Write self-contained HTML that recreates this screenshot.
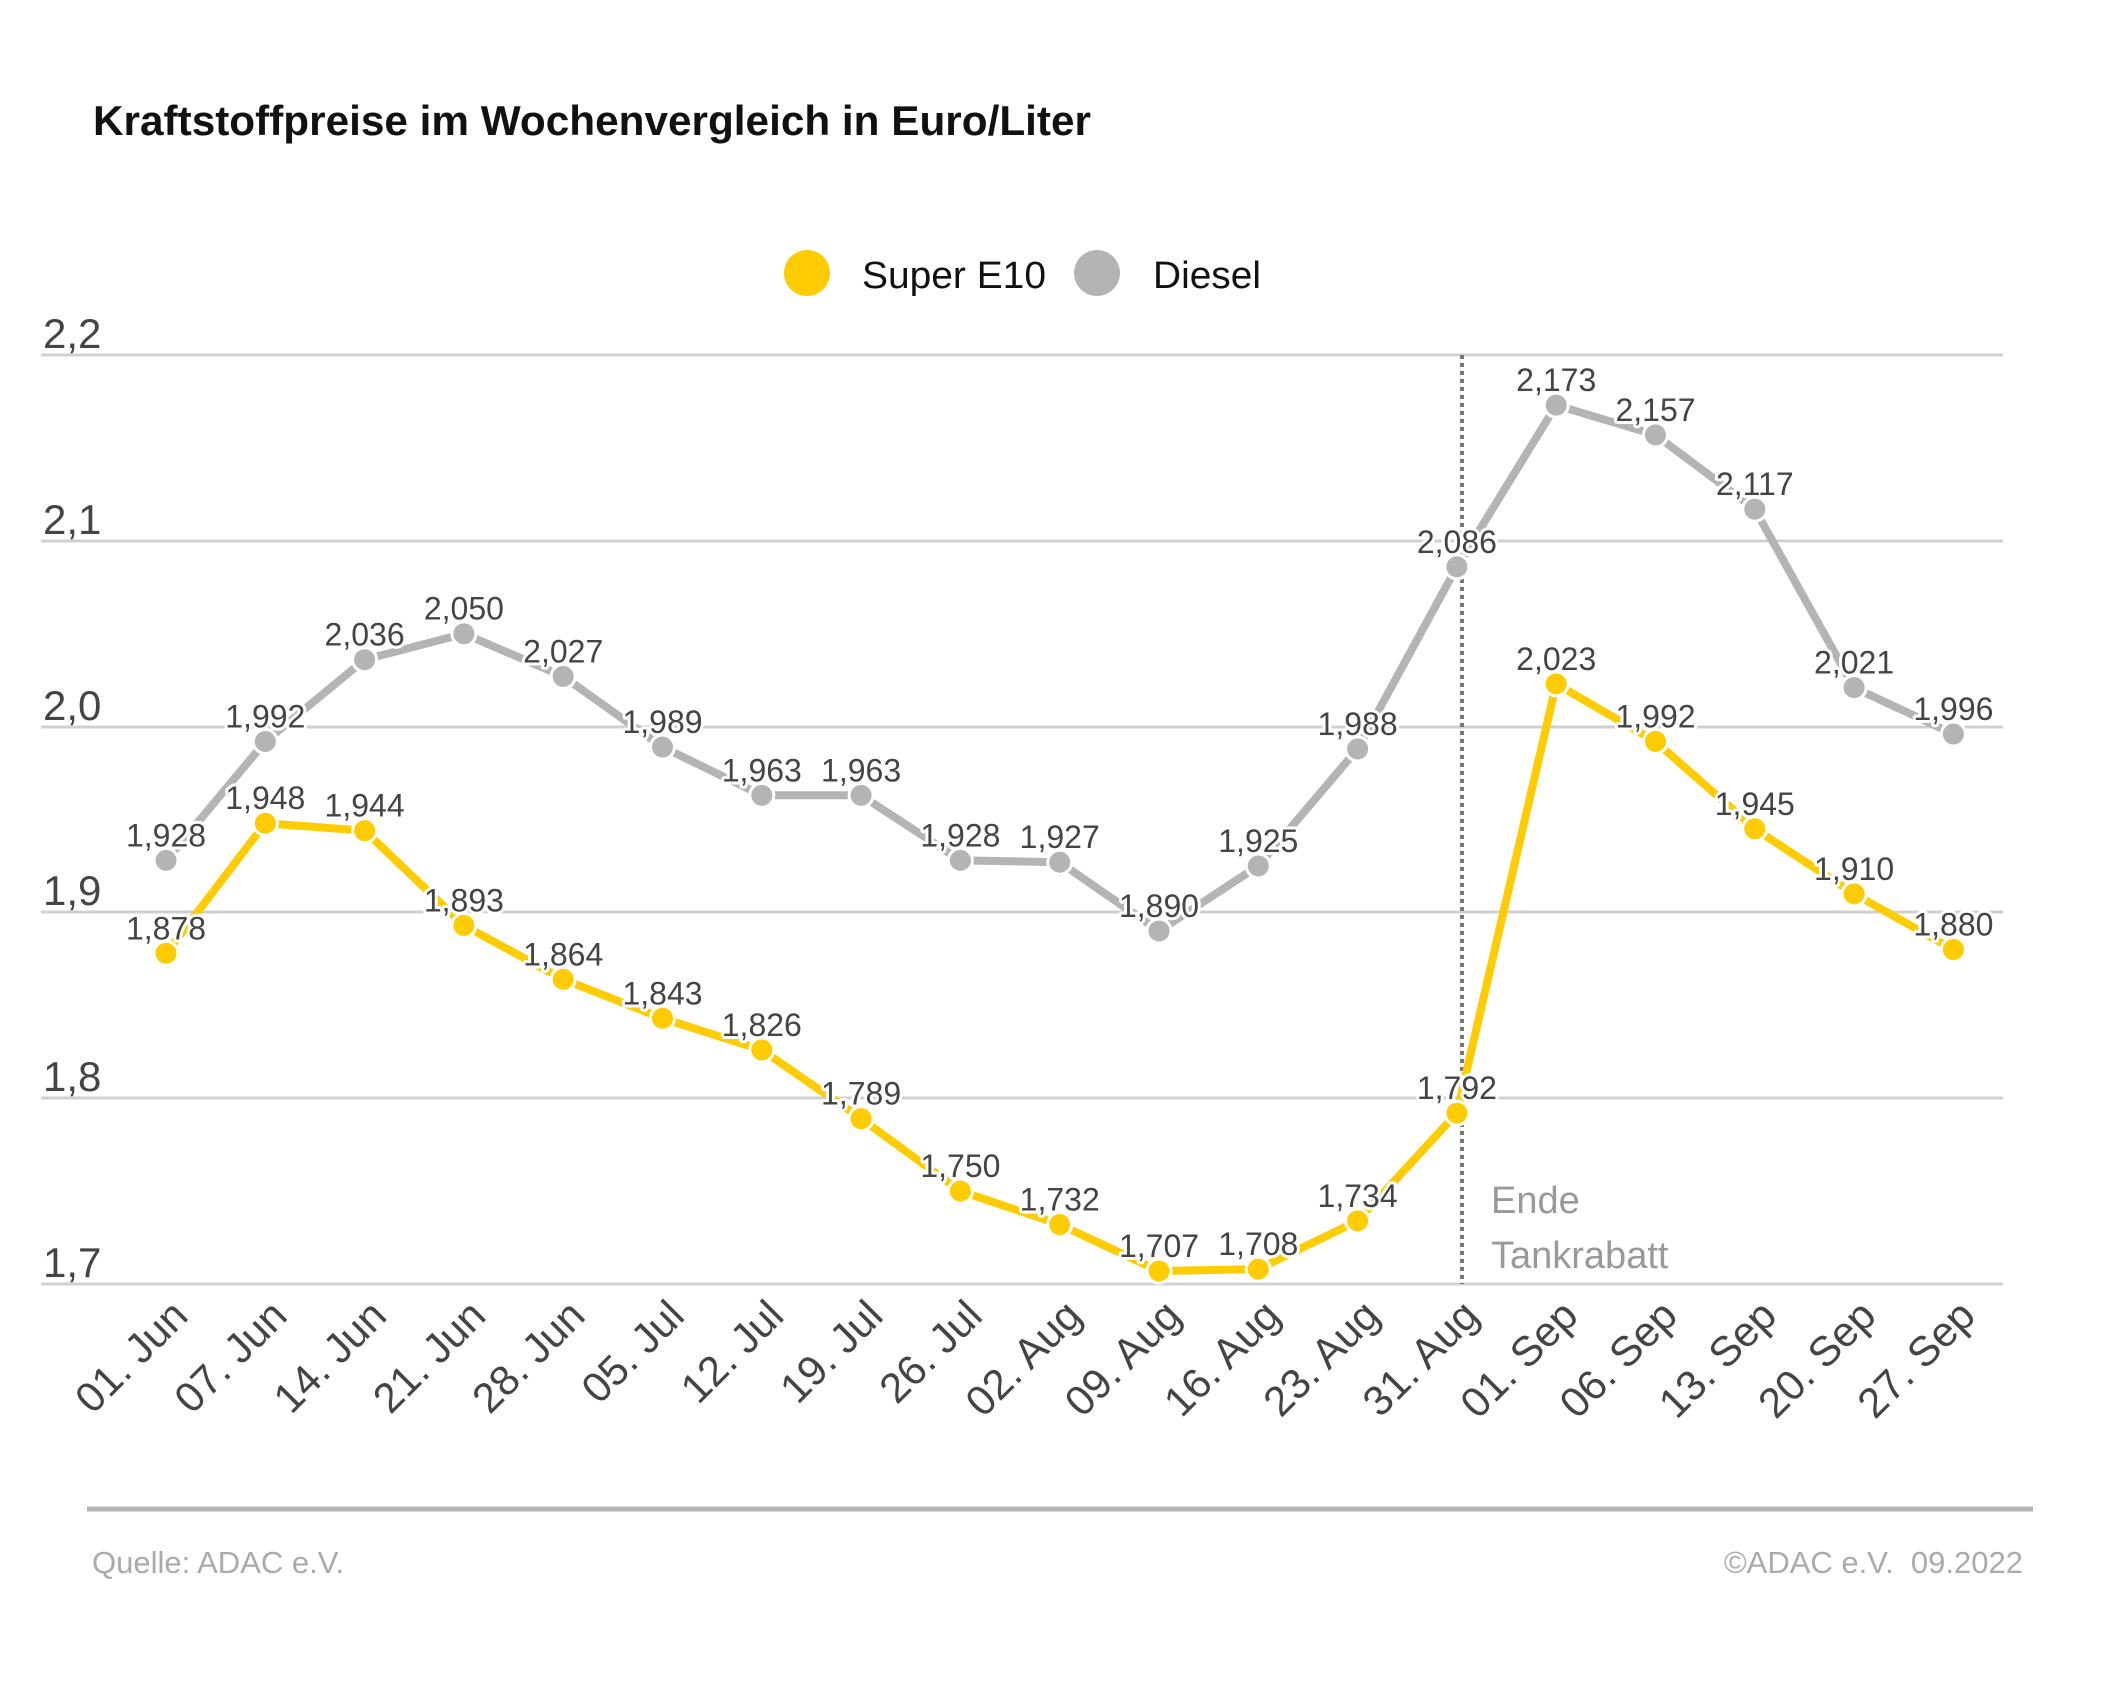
<!DOCTYPE html>
<html><head><meta charset="utf-8"><style>
html,body{margin:0;padding:0;background:#fff;}
svg{display:block;}
text{font-family:"Liberation Sans",sans-serif;}
.lbl{font-size:32px;fill:#444;text-anchor:middle;stroke:#fff;stroke-width:6px;paint-order:stroke;stroke-linejoin:round;}
.yt{font-size:42px;fill:#444;}
.xt{font-size:42px;fill:#444;text-anchor:end;}
</style></head><body>
<svg width="2126" height="1683" viewBox="0 0 2126 1683" xmlns="http://www.w3.org/2000/svg">
<text x="93" y="135" font-size="42" font-weight="bold" fill="#111" textLength="998" lengthAdjust="spacingAndGlyphs">Kraftstoffpreise im Wochenvergleich in Euro/Liter</text>
<circle cx="807" cy="273" r="23" fill="#fecc00"/>
<text x="862" y="288" font-size="38" fill="#111" textLength="184" lengthAdjust="spacingAndGlyphs">Super E10</text>
<circle cx="1097" cy="273" r="23" fill="#b4b4b4"/>
<text x="1153" y="288" font-size="38" fill="#111" textLength="108" lengthAdjust="spacingAndGlyphs">Diesel</text>
<g stroke="#d0d0d0" stroke-width="3">
<line x1="41" x2="2003" y1="355" y2="355"/><line x1="41" x2="2003" y1="541" y2="541"/>
<line x1="41" x2="2003" y1="727" y2="727"/><line x1="41" x2="2003" y1="912" y2="912"/>
<line x1="41" x2="2003" y1="1098" y2="1098"/><line x1="41" x2="2003" y1="1284" y2="1284"/>
</g>
<g class="yt">
<text x="43" y="348">2,2</text><text x="43" y="534">2,1</text><text x="43" y="720">2,0</text>
<text x="43" y="905">1,9</text><text x="43" y="1091">1,8</text><text x="43" y="1277">1,7</text>
</g>
<line x1="1462" y1="355" x2="1462" y2="1284" stroke="#777" stroke-width="4" stroke-dasharray="4,4"/>
<text x="1491" y="1213" font-size="38" fill="#999">Ende</text>
<text x="1491" y="1268" font-size="38" fill="#999">Tankrabatt</text>
<g id="chart"></g>
<line x1="87" y1="1509" x2="2033" y2="1509" stroke="#b4b4b4" stroke-width="5"/>
<text x="92" y="1573" font-size="31" fill="#aaa">Quelle: ADAC e.V.</text>
<text x="2023" y="1573" font-size="31" fill="#aaa" text-anchor="end" xml:space="preserve">©ADAC e.V.  09.2022</text>
</svg>
<script>
var e10=[1.878,1.948,1.944,1.893,1.864,1.843,1.826,1.789,1.750,1.732,1.707,1.708,1.734,1.792,2.023,1.992,1.945,1.910,1.880];
var di=[1.928,1.992,2.036,2.050,2.027,1.989,1.963,1.963,1.928,1.927,1.890,1.925,1.988,2.086,2.173,2.157,2.117,2.021,1.996];
var xl=["01. Jun","07. Jun","14. Jun","21. Jun","28. Jun","05. Jul","12. Jul","19. Jul","26. Jul","02. Aug","09. Aug","16. Aug","23. Aug","31. Aug","01. Sep","06. Sep","13. Sep","20. Sep","27. Sep"];
function X(i){return 166+i*99.3;}function Y(v){return 1284-(v-1.7)*1858;}
var s="";
function ser(d,c){var p=d.map(function(v,i){return X(i).toFixed(1)+","+Y(v).toFixed(1)}).join(" ");
s+='<polyline points="'+p+'" fill="none" stroke="'+c+'" stroke-width="8" stroke-linejoin="round"/>';
d.forEach(function(v,i){s+='<circle cx="'+X(i)+'" cy="'+Y(v)+'" r="12" fill="'+c+'" stroke="#fff" stroke-width="3"/>';});}
function lab(d){d.forEach(function(v,i){s+='<text class="lbl" x="'+X(i)+'" y="'+(Y(v)-14)+'">'+v.toFixed(3).replace(".",",")+'</text>';});}
ser(di,"#b4b4b4");ser(e10,"#fecc00");lab(di);lab(e10);
xl.forEach(function(t,i){var x=X(i)+24,y=1318;s+='<text class="xt" transform="translate('+x+','+y+') rotate(-45)">'+t+'</text>';});
document.getElementById("chart").innerHTML=s;
</script>
</body></html>
